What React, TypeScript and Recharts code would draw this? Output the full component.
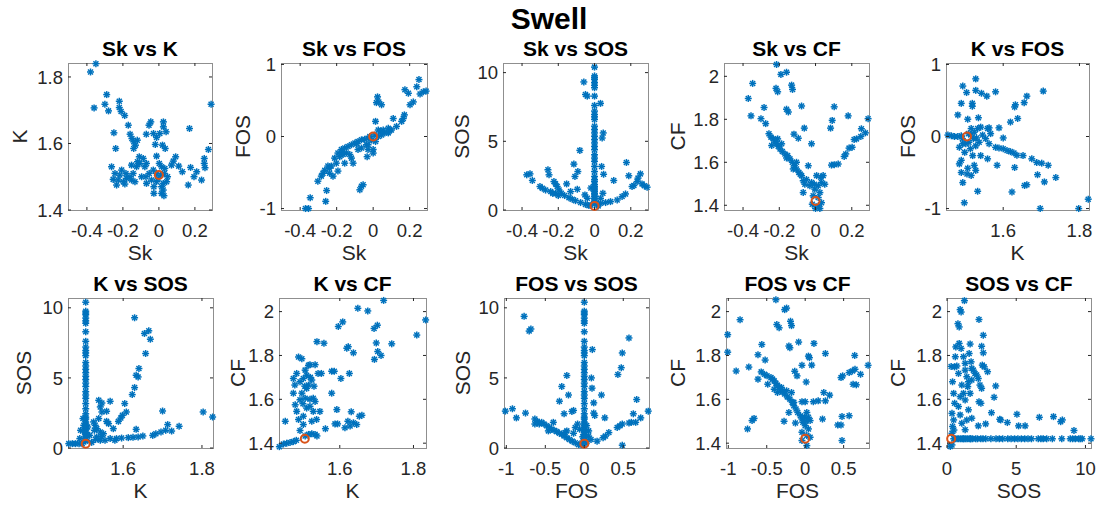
import { ScatterChart, Scatter, XAxis, YAxis } from 'recharts';

type Pt = [number, number];

const BLUE = '#0072BD';
const RED = '#D95319';
const INK = '#262626';
const BOX = '#8f8f8f';
const FONT = 'Arial, "Liberation Sans", Helvetica, sans-serif';

// base case (red circle)
const baseSk = 0;
const baseK = 1.505;
const baseFos = 0;
const baseSos = 0.3;
const baseCf = 1.42;

// SOS sweep with everything else at the base case
const sosSweep = [0.49, 0.6, 0.73, 0.85, 0.98, 1.1, 1.22, 1.35, 1.46, 1.6, 1.71, 1.85, 2.07, 2.2, 2.44, 2.8, 3.17, 3.54, 3.78, 4.02, 4.39, 4.63, 4.88, 5.12, 5.37, 5.61, 5.85, 6.1, 6.59, 6.78, 6.95, 7.2, 7.61, 8.29, 8.9, 9.07, 9.27, 9.51, 9.63, 9.76, 10.4];

const skTicks = [-0.4, -0.2, 0, 0.2];
const kTicksY = [1.4, 1.6, 1.8];
const kTicksX = [1.6, 1.8];
const fosTicksY = [-1, 0, 1];
const fosTicksX = [-1, -0.5, 0, 0.5];
const sosTicks = [0, 5, 10];
const cfTicks = [1.4, 1.6, 1.8, 2];

const skK: Pt[] = [
  [-0.35, 1.84], [-0.38, 1.815], [-0.36, 1.707], [-0.29, 1.747], [-0.3, 1.718], [-0.28, 1.698], [-0.22, 1.727], [-0.22, 1.708],
  [-0.21, 1.696], [-0.19, 1.684], [-0.25, 1.632], [-0.24, 1.585], [-0.17, 1.655], [-0.16, 1.628], [-0.15, 1.615], [-0.14, 1.605],
  [-0.13, 1.595], [-0.14, 1.585], [-0.12, 1.61], [-0.07, 1.628], [-0.055, 1.655], [-0.045, 1.665], [-0.03, 1.63], [-0.02, 1.597],
  [-0.013, 1.618], [0.005, 1.63], [0.025, 1.665], [0.025, 1.65], [0.04, 1.635], [0.02, 1.595], [0.035, 1.585], [-0.013, 1.562],
  [0.17, 1.645], [0.29, 1.718], [0.275, 1.582], [0.252, 1.555], [0.252, 1.54], [0.256, 1.527], [0.21, 1.515], [0.195, 1.5],
  [0.237, 1.49], [0.163, 1.475], [0.176, 1.528], [0.13, 1.515], [0.11, 1.532], [0.093, 1.56], [0.08, 1.547], [0.07, 1.535],
  [-0.031, 1.52], [-0.013, 1.51], [0.015, 1.53], [0.033, 1.525], [0.048, 1.5], [0.024, 1.48], [0.015, 1.47], [0.024, 1.46],
  [0.015, 1.45], [0.028, 1.443], [-0.028, 1.45], [-0.013, 1.485], [-0.041, 1.49], [-0.054, 1.51], [-0.072, 1.5], [-0.078, 1.53],
  [-0.069, 1.48], [-0.096, 1.5], [-0.106, 1.54], [-0.109, 1.56], [-0.087, 1.555], [-0.069, 1.54], [-0.124, 1.53], [-0.143, 1.51],
  [-0.152, 1.49], [-0.133, 1.485], [-0.161, 1.5], [-0.183, 1.51], [-0.198, 1.485], [-0.217, 1.505], [-0.226, 1.49], [-0.235, 1.475],
  [-0.254, 1.492], [-0.263, 1.53], [-0.244, 1.51], [-0.189, 1.478], [-0.18, 1.495], [-0.207, 1.52], [-0.152, 1.535], [-0.119, 1.545],
  [-0.028, 1.47], [0.043, 1.485], [0.002, 1.54], [0.01, 1.505], [-0.005, 1.495], [0.03, 1.51],
];

const skFos: Pt[] = [
  [-0.371, -1.0], [-0.354, -1.0], [-0.345, -0.85], [-0.26, -0.9], [-0.255, -0.75], [-0.303, -0.62], [-0.284, -0.55], [-0.275, -0.51],
  [-0.248, -0.41], [-0.229, -0.41], [-0.239, -0.51], [-0.22, -0.55], [-0.193, -0.48], [-0.202, -0.37], [-0.211, -0.3], [-0.193, -0.23],
  [-0.174, -0.18], [-0.156, -0.16], [-0.138, -0.14], [-0.119, -0.115], [-0.1, -0.09], [-0.083, -0.07], [-0.064, -0.046], [-0.046, -0.037],
  [-0.028, -0.023], [-0.183, -0.28], [-0.165, -0.25], [-0.147, -0.23], [-0.128, -0.25], [-0.119, -0.3], [-0.156, -0.37], [-0.11, -0.37],
  [-0.083, -0.18], [-0.064, -0.16], [-0.037, -0.115], [-0.028, -0.18], [-0.033, -0.28], [0, -0.23], [-0.064, -0.69], [-0.055, -0.67],
  [-0.073, -0.74], [0.024, 0.55], [0.018, 0.47], [0.031, 0.48], [0.046, 0.44], [0.013, 0.21], [0.028, 0.09], [0.042, 0.07],
  [0.055, 0.09], [0.046, 0.02], [0.028, 0], [0.083, 0.115], [0.092, 0.09], [0.11, 0.25], [0.128, 0.14], [0.156, 0.21],
  [0.165, 0.25], [0.171, 0.3], [0.202, 0.44], [0.22, 0.48], [0.174, 0.65], [0.193, 0.6], [0.239, 0.69], [0.251, 0.79],
  [0.257, 0.59], [0.275, 0.62], [0.29, 0.63], [-0.018, 0], [0.009, 0.02], [-0.009, -0.05], [0.013, -0.07], [-0.028, -0.115],
  [0.064, 0.05], [0.083, 0.05], [0.1, 0.09], [-0.24, -0.44], [-0.265, -0.47], [-0.17, -0.22], [-0.09, -0.1], [0.0, -0.18],
];

const skSos: Pt[] = [
  [-0.374, 2.56], [-0.356, 2.63], [-0.343, 2.15], [-0.301, 1.71], [-0.288, 1.59], [-0.257, 2.93], [-0.251, 2.56], [-0.242, 1.34],
  [-0.224, 2.07], [-0.215, 1.9], [-0.206, 1.71], [-0.196, 1.46], [-0.215, 1.22], [-0.154, 1.9], [-0.114, 3.34], [-0.108, 2.44],
  [-0.092, 2.8], [-0.081, 4.34], [-0.183, 1.22], [-0.165, 1.05], [-0.141, 0.9], [-0.123, 0.78], [-0.105, 0.68], [-0.077, 0.54],
  [-0.05, 0.41], [-0.031, 0.32], [-0.132, 1.34], [-0.095, 1.51], [-0.053, 1.1], [-0.04, 0.85], [-0.059, 9.32], [-0.05, 8.41],
  [-0.04, 8.29], [0.033, 7.76], [0.048, 5.61], [0.042, 5.24], [0.039, 3.17], [0.046, 1.22], [0.033, 0.85], [0.033, 0.49],
  [0.061, 0.54], [0.088, 0.61], [0.106, 2.15], [0.125, 0.73], [0.152, 0.98], [0.171, 1.17], [0.176, 3.46], [0.189, 2.49],
  [0.207, 1.71], [0.217, 1.78], [0.235, 2.07], [0.24, 2.32], [0.253, 2.63], [0.262, 1.9], [0.275, 1.76], [0.29, 1.66],
  [0.02, 0.3], [-0.02, 0.35], [0.01, 0.45], [-0.27, 1.45], [-0.23, 1.2], [-0.2, 1.05], [0.05, 2.6], [-0.02, 1.6],
];

const skCf: Pt[] = [
  [-0.215, 2.055], [-0.191, 2.009], [-0.16, 2.019], [-0.132, 1.959], [-0.127, 1.939], [-0.218, 1.944], [-0.209, 1.928], [-0.347, 1.967],
  [-0.371, 1.897], [-0.356, 1.816], [-0.284, 1.855], [-0.301, 1.803], [-0.275, 1.78], [-0.16, 1.847], [-0.15, 1.834], [-0.077, 1.862],
  [-0.062, 1.759], [-0.119, 1.731], [-0.095, 1.712], [-0.022, 1.686], [0.092, 1.795], [0.103, 1.858], [0.083, 1.759], [0.18, 1.816],
  [0.253, 1.756], [0.275, 1.737], [0.29, 1.803], [0.226, 1.709], [0.202, 1.67], [0.185, 1.666], [0.158, 1.627], [0.125, 1.592],
  [0.103, 1.589], [0.088, 1.587], [0.25, 1.72], [0.213, 1.706], [0.167, 1.639],
  [-0.257, 1.733], [-0.246, 1.717], [-0.233, 1.709], [-0.224, 1.694], [-0.215, 1.686], [-0.206, 1.675], [-0.196, 1.662], [-0.183, 1.65],
  [-0.169, 1.639], [-0.154, 1.631], [-0.141, 1.616], [-0.128, 1.6], [-0.117, 1.584], [-0.105, 1.569], [-0.092, 1.553], [-0.077, 1.538],
  [-0.068, 1.514], [-0.059, 1.498], [-0.068, 1.459], [-0.04, 1.584], [-0.242, 1.678], [-0.209, 1.709], [-0.187, 1.686], [-0.105, 1.6],
  [-0.123, 1.569], [-0.013, 1.444], [0.015, 1.436], [0.006, 1.538], [0.029, 1.53], [0.042, 1.538], [0.051, 1.498], [0.033, 1.506],
  [0.015, 1.491], [-0.007, 1.498], [-0.022, 1.506], [-0.031, 1.491], [0.024, 1.385], [0, 1.385], [0.015, 1.397], [-0.018, 1.405],
  [0.033, 1.412], [-0.004, 1.475], [0.024, 1.459], [-0.05, 1.52], [-0.085, 1.545], [-0.16, 1.62],
];

const kFos: Pt[] = [
  [1.455, 0.02], [1.464, 0.01], [1.472, 0], [1.481, 0], [1.49, 0.01], [1.494, 0.7], [1.504, 0.61], [1.49, 0.46],
  [1.481, 0.3], [1.528, 0.8], [1.528, 0.64], [1.543, 0.6], [1.557, 0.56], [1.58, 0.62], [1.519, 0.46], [1.519, 0.42],
  [1.535, 0.26], [1.507, 0.24], [1.705, 0.63], [1.662, 0.56], [1.655, 0.47], [1.632, 0.44], [1.63, 0.41], [1.638, 0.25],
  [1.619, 0.2], [1.589, 0.12], [1.563, 0.12], [1.541, 0.13], [1.58, -0.15], [1.589, -0.16], [1.6, -0.17], [1.61, -0.195],
  [1.619, -0.21], [1.628, -0.23], [1.636, -0.26], [1.652, -0.265], [1.675, -0.31], [1.688, -0.36], [1.701, -0.37], [1.718, -0.4],
  [1.738, -0.57], [1.708, -0.63], [1.69, -0.53], [1.656, -0.68], [1.662, -0.67], [1.623, -0.77], [1.63, -0.43], [1.584, -0.4],
  [1.6, -0.02], [1.697, -1.0], [1.798, -1.0], [1.823, -0.87], [1.498, -0.92], [1.533, -0.76], [1.485, -0.15], [1.494, -0.1],
  [1.499, -0.22], [1.49, -0.33], [1.485, -0.38], [1.49, -0.5], [1.494, -0.64], [1.507, -0.44], [1.505, -0.52], [1.516, -0.54],
  [1.528, -0.47], [1.524, -0.4], [1.52, -0.265], [1.514, -0.17], [1.528, -0.13], [1.537, -0.08], [1.541, -0.265], [1.559, -0.31],
  [1.563, -0.1], [1.554, -0.03], [1.546, 0.02], [1.567, 0.04], [1.524, 0.06], [1.516, 0.11], [1.522, -0.03], [1.51, -0.08],
  [1.502, -0.1], [1.493, -0.03], [1.509, 0.04], [1.533, 0.11], [1.559, 0.11], [1.515, 0.02], [1.53, -0.02],
];

const kSos: Pt[] = [
  [1.462, 0.31], [1.471, 0.31], [1.479, 0.31], [1.488, 0.31], [1.496, 0.31], [1.5, 1.62], [1.498, 2.1], [1.502, 1.14],
  [1.492, 1.26], [1.49, 0.67], [1.525, 1.86], [1.529, 1.62], [1.533, 1.38], [1.542, 1.14], [1.55, 1.02], [1.538, 2.1],
  [1.546, 2.57], [1.542, 2.93], [1.538, 3.4], [1.546, 3.21], [1.558, 2.62], [1.567, 3.33], [1.558, 1.9], [1.563, 1.74],
  [1.575, 1.38], [1.567, 0.67], [1.554, 0.55], [1.542, 0.55], [1.533, 0.79], [1.527, 1.26], [1.588, 1.9], [1.594, 2.14],
  [1.598, 2.33], [1.604, 3.17], [1.608, 2.57], [1.623, 3.81], [1.629, 4.31], [1.633, 5.19], [1.638, 5.07], [1.64, 5.67],
  [1.657, 6.74], [1.654, 8.17], [1.665, 8.36], [1.669, 7.76], [1.629, 9.29], [1.583, 0.67], [1.596, 0.71], [1.613, 0.74],
  [1.625, 0.76], [1.638, 0.79], [1.65, 0.86], [1.683, 1.02], [1.696, 1.14], [1.708, 1.26], [1.723, 1.21], [1.742, 1.55],
  [1.713, 1.67], [1.7, 2.64], [1.633, 1.33], [1.675, 0.9], [1.803, 2.57], [1.827, 2.21], [1.579, 0.55], [1.52, 0.4],
  [1.515, 0.9], [1.51, 1.5], [1.53, 0.6], [1.545, 0.8],
];

const kCf: Pt[] = [
  [1.436, 1.384], [1.447, 1.396], [1.456, 1.4], [1.465, 1.403], [1.474, 1.407], [1.482, 1.413], [1.506, 1.433], [1.515, 1.44],
  [1.524, 1.443], [1.533, 1.44], [1.538, 1.433], [1.452, 1.5], [1.492, 1.458], [1.501, 1.485], [1.561, 1.466], [1.474, 1.628],
  [1.478, 1.665], [1.474, 1.695], [1.483, 1.718], [1.488, 1.793], [1.497, 1.785], [1.479, 1.575], [1.483, 1.545], [1.488, 1.508],
  [1.501, 1.523], [1.492, 1.598], [1.497, 1.628], [1.492, 1.68], [1.501, 1.695], [1.506, 1.733], [1.51, 1.71], [1.515, 1.755],
  [1.519, 1.758], [1.533, 1.758], [1.515, 1.665], [1.524, 1.688], [1.51, 1.65], [1.506, 1.605], [1.51, 1.56], [1.519, 1.568],
  [1.528, 1.545], [1.524, 1.5], [1.537, 1.508], [1.519, 1.6], [1.533, 1.59], [1.546, 1.545], [1.541, 1.718], [1.55, 1.718],
  [1.528, 1.605], [1.538, 1.863], [1.557, 1.856], [1.578, 1.728], [1.585, 1.728], [1.578, 1.628], [1.592, 1.553], [1.587, 1.488],
  [1.594, 1.488], [1.603, 1.695], [1.626, 1.718], [1.596, 1.932], [1.608, 1.953], [1.619, 1.833], [1.623, 1.84], [1.637, 1.812],
  [1.622, 1.5], [1.631, 1.543], [1.628, 1.478], [1.637, 1.493], [1.646, 1.485], [1.653, 1.523], [1.66, 1.527], [1.614, 1.47],
  [1.649, 2.015], [1.676, 2.003], [1.719, 2.051], [1.693, 1.923], [1.702, 1.938], [1.699, 1.857], [1.694, 1.782], [1.703, 1.818],
  [1.712, 1.8], [1.741, 1.853], [1.809, 1.893], [1.833, 1.962], [1.505, 1.66], [1.52, 1.7], [1.5, 1.58], [1.53, 1.66],
];

const fosSos: Pt[] = [
  [-1.013, 2.63], [-0.922, 2.8], [-0.871, 2.15], [-0.772, 9.39], [-0.707, 8.34], [-0.685, 8.49], [-0.754, 2.49], [-0.634, 2.07],
  [-0.603, 1.9], [-0.578, 1.71], [-0.547, 1.83], [-0.517, 1.71], [-0.483, 1.59], [-0.634, 1.71], [-0.448, 1.46], [-0.418, 1.34],
  [-0.388, 1.27], [-0.353, 1.17], [-0.319, 1.05], [-0.289, 0.98], [-0.259, 0.85], [-0.224, 0.73], [-0.19, 0.61], [-0.155, 0.49],
  [-0.116, 0.37], [-0.073, 0.24], [-0.039, 0.24], [-0.397, 1.83], [-0.461, 1.22], [-0.224, 1.22], [-0.138, 1.05], [-0.116, 1.46],
  [-0.06, 1.34], [-0.246, 1.1], [-0.224, 5.17], [-0.289, 4.39], [-0.203, 3.78], [-0.319, 3.34], [-0.259, 2.44], [-0.159, 2.61],
  [-0.138, 2.68], [-0.086, 1.71], [0.103, 7.02], [0.091, 5.0], [0.099, 4.27], [0.121, 3.22], [0.121, 2.49], [0.134, 2.32],
  [0.22, 3.78], [0.263, 2.15], [0.056, 1.22], [0.056, 0.85], [0.086, 0.61], [0.034, 0.49], [0.164, 0.49], [0.241, 0.73],
  [0.272, 0.85], [0.315, 1.1], [0.422, 1.46], [0.457, 1.59], [0.487, 1.71], [0.573, 1.78], [0.603, 1.83], [0.629, 2.44],
  [0.659, 1.83], [0.672, 3.46], [0.724, 2.15], [0.82, 2.63], [0.487, 0.2], [0.431, 5.24], [0.474, 5.73], [0.487, 6.78],
  [0.573, 7.85], [-0.03, 0.35], [0.02, 0.3], [-0.02, 0.8], [0.03, 1.6],
];

const fosCf: Pt[] = [
  [-1.008, 1.895], [-1.008, 1.815], [-0.847, 1.963], [-0.898, 1.729], [-0.733, 1.747], [-0.75, 1.465], [-0.691, 1.503], [-0.665, 1.513],
  [-0.614, 1.803], [-0.564, 1.85], [-0.521, 1.779], [-0.614, 1.692], [-0.381, 2.054], [-0.369, 1.941], [-0.339, 1.926], [-0.267, 2.009],
  [-0.242, 2.016], [-0.191, 1.956], [-0.178, 1.936], [-0.212, 1.843], [-0.199, 1.835], [-0.085, 1.861], [0.042, 1.797], [0.055, 1.79],
  [0.114, 1.855], [0.263, 1.809], [0.085, 1.756], [-0.042, 1.755], [-0.136, 1.728], [-0.106, 1.707], [0.013, 1.679],
  [-0.572, 1.725], [-0.53, 1.714], [-0.496, 1.707], [-0.445, 1.699], [-0.424, 1.692], [-0.403, 1.684], [-0.381, 1.673], [-0.36, 1.664],
  [-0.339, 1.654], [-0.318, 1.646], [-0.297, 1.634], [-0.267, 1.624], [-0.233, 1.611], [-0.199, 1.601], [-0.169, 1.586], [-0.148, 1.571],
  [-0.119, 1.556], [-0.097, 1.54], [-0.064, 1.525], [-0.042, 1.51], [-0.03, 1.495], [-0.487, 1.669], [-0.403, 1.646], [-0.36, 1.631],
  [-0.309, 1.654], [-0.242, 1.639], [-0.148, 1.586], [-0.212, 1.54], [-0.275, 1.5], [-0.127, 1.492], [-0.178, 1.631],
  [-0.042, 1.589], [0, 1.589], [0.106, 1.589], [0.169, 1.593], [0.263, 1.593], [0.242, 1.631], [0.318, 1.619], [0.225, 1.51],
  [0.466, 1.699], [0.487, 1.707], [0.572, 1.722], [0.614, 1.729], [0.648, 1.737], [0.623, 1.669], [0.665, 1.666], [0.644, 1.8],
  [0.72, 1.714], [0.818, 1.755], [0.424, 1.483], [0.466, 1.483], [0.479, 1.522], [0.572, 1.525], [0.479, 1.412],
  [0.021, 1.54], [0.042, 1.518], [0.064, 1.503], [0, 1.48], [0.042, 1.465], [-0.042, 1.45], [0.021, 1.435], [0.064, 1.427],
  [0.021, 1.389], [-0.042, 1.412], [0.01, 1.5], [-0.01, 1.52],
];

const sosCf: Pt[] = [
  [0.36, 1.445], [0.4, 1.476], [0.48, 1.506], [0.36, 1.536], [0.55, 1.582], [0.48, 1.627], [0.4, 1.68], [0.55, 1.748],
  [0.6, 1.794], [0.64, 1.839], [0.88, 1.855], [1.02, 1.832], [0.71, 1.752], [0.83, 1.718], [1.07, 1.665], [1.19, 1.627],
  [1.31, 1.597], [1.55, 1.552], [1.79, 1.514], [0.95, 1.612], [0.83, 1.567], [0.95, 1.529], [1.07, 1.491], [1.31, 1.461],
  [1.43, 1.506], [0.79, 1.945], [0.88, 1.93], [0.95, 2.009], [1.02, 1.998], [1.26, 2.05], [2.31, 1.964], [2.62, 1.892],
  [2.5, 1.842], [2.62, 1.812], [2.55, 1.756], [2.69, 1.748], [2.93, 1.726], [2.26, 1.695], [1.67, 1.852], [1.6, 1.809],
  [1.74, 1.771], [1.79, 1.741], [1.9, 1.733], [2.02, 1.718], [2.14, 1.711], [1.55, 1.68], [1.5, 1.658], [1.67, 1.627],
  [1.79, 1.688], [1.43, 1.703], [1.31, 1.733], [1.19, 1.794], [1.31, 1.764], [2.38, 1.665], [2.5, 1.65], [2.31, 1.589],
  [2.45, 1.582], [2.26, 1.479], [2.79, 1.488], [3.21, 1.539], [3.4, 1.609], [3.52, 1.661], [3.81, 1.509], [3.88, 1.506],
  [4.36, 1.494], [5.05, 1.532], [5.17, 1.479], [5.64, 1.479], [6.67, 1.518], [7.69, 1.521], [8.21, 1.498], [8.33, 1.506],
  [9.17, 1.458], [0.24, 1.385], [0.36, 1.392], [0.5, 1.46], [1.2, 1.42], [1.7, 1.42], [2.6, 1.42], [0.3, 1.75],
];

type PanelCfg = {
  title: string;
  xLabel: string;
  yLabel: string;
  box: [number, number, number, number];
  yGap: number;
  xDomain: [number, number];
  xTicks: number[];
  yDomain: [number, number];
  yTicks: number[];
  points: Pt[];
  base: Pt;
};

const skDom: [number, number] = [-0.505, 0.295];
const fosDomY: [number, number] = [-1.02, 1.02];
const fosDomX: [number, number] = [-1.03, 0.83];
const sosDomY: [number, number] = [0, 10.7];
const sosDomX: [number, number] = [0, 10.4];
const cfDom: [number, number] = [1.378, 2.062];

const panels: PanelCfg[] = [
  { title: 'Sk vs K', xLabel: 'Sk', yLabel: 'K', box: [68, 63, 212, 210], yGap: 49, xDomain: skDom, xTicks: skTicks, yDomain: [1.4, 1.842], yTicks: kTicksY, points: skK, base: [baseSk, baseK] },
  { title: 'Sk vs FOS', xLabel: 'Sk', yLabel: 'FOS', box: [281, 63, 427, 210], yGap: 39, xDomain: skDom, xTicks: skTicks, yDomain: fosDomY, yTicks: fosTicksY, points: skFos, base: [baseSk, baseFos] },
  { title: 'Sk vs SOS', xLabel: 'Sk', yLabel: 'SOS', box: [503, 63, 648, 210], yGap: 42, xDomain: skDom, xTicks: skTicks, yDomain: sosDomY, yTicks: sosTicks, points: [...skSos, ...sosSweep.map((s): Pt => [baseSk, s])], base: [baseSk, baseSos] },
  { title: 'Sk vs CF', xLabel: 'Sk', yLabel: 'CF', box: [724, 63, 869, 210], yGap: 47, xDomain: skDom, xTicks: skTicks, yDomain: cfDom, yTicks: cfTicks, points: skCf, base: [baseSk, baseCf] },
  { title: 'K vs FOS', xLabel: 'K', yLabel: 'FOS', box: [946, 63, 1089, 210], yGap: 39, xDomain: [1.45, 1.825], xTicks: kTicksX, yDomain: fosDomY, yTicks: fosTicksY, points: kFos, base: [baseK, baseFos] },
  { title: 'K vs SOS', xLabel: 'K', yLabel: 'SOS', box: [68, 298, 213, 448], yGap: 45, xDomain: [1.46, 1.828], xTicks: kTicksX, yDomain: sosDomY, yTicks: sosTicks, points: [...kSos, ...sosSweep.map((s): Pt => [baseK, s])], base: [baseK, baseSos] },
  { title: 'K vs CF', xLabel: 'K', yLabel: 'CF', box: [279, 298, 426, 448], yGap: 42, xDomain: [1.435, 1.834], xTicks: kTicksX, yDomain: cfDom, yTicks: cfTicks, points: kCf, base: [baseK, baseCf] },
  { title: 'FOS vs SOS', xLabel: 'FOS', yLabel: 'SOS', box: [504, 298, 649, 448], yGap: 42, xDomain: fosDomX, xTicks: fosTicksX, yDomain: sosDomY, yTicks: sosTicks, points: [...fosSos, ...sosSweep.map((s): Pt => [baseFos, s])], base: [baseFos, baseSos] },
  { title: 'FOS vs CF', xLabel: 'FOS', yLabel: 'CF', box: [726, 298, 869, 448], yGap: 49, xDomain: fosDomX, xTicks: fosTicksX, yDomain: cfDom, yTicks: cfTicks, points: fosCf, base: [baseFos, baseCf] },
  { title: 'SOS vs CF', xLabel: 'SOS', yLabel: 'CF', box: [947, 298, 1091, 448], yGap: 50, xDomain: sosDomX, xTicks: sosTicks, yDomain: cfDom, yTicks: cfTicks, points: [...sosCf, ...sosSweep.map((s): Pt => [s, baseCf])], base: [baseSos, baseCf] },
];

// MATLAB '*' marker
function Star(props: any) {
  const { cx, cy } = props;
  if (cx == null || cy == null) return null;
  const r = 3.5;
  const d = 2.5;
  return (
    <g stroke={BLUE} strokeWidth={1.5}>
      <line x1={cx - r} y1={cy} x2={cx + r} y2={cy} />
      <line x1={cx} y1={cy - r} x2={cx} y2={cy + r} />
      <line x1={cx - d} y1={cy - d} x2={cx + d} y2={cy + d} />
      <line x1={cx - d} y1={cy + d} x2={cx + d} y2={cy - d} />
    </g>
  );
}

function Ring(props: any) {
  const { cx, cy } = props;
  if (cx == null || cy == null) return null;
  return <circle cx={cx} cy={cy} r={4} fill="none" stroke={RED} strokeWidth={2} />;
}

const YW = 60;
const XH = 40;
const MT = 12;
const MR = 18;
const TICK_FS = 18.5;
const LABEL_FS = 21;

function Panel({ cfg }: { cfg: PanelCfg }) {
  const [l, t, r, b] = cfg.box;
  const pw = r - l;
  const ph = b - t;
  const data = cfg.points.map(([x, y]) => ({ x, y }));
  const base = [{ x: cfg.base[0], y: cfg.base[1] }];

  const xTick = (p: any) => (
    <g>
      <line x1={p.x} y1={p.y} x2={p.x} y2={p.y - 3} stroke={INK} />
      <line x1={p.x} y1={p.y - ph} x2={p.x} y2={p.y - ph + 3} stroke={INK} />
      <text x={p.x} y={p.y + 27} textAnchor="middle" fontSize={TICK_FS} fill={INK} fontFamily={FONT}>
        {String(p.payload.value)}
      </text>
    </g>
  );
  const yTick = (p: any) => (
    <g>
      <line x1={p.x} y1={p.y} x2={p.x + 3} y2={p.y} stroke={INK} />
      <line x1={p.x + pw} y1={p.y} x2={p.x + pw - 3} y2={p.y} stroke={INK} />
      <text x={p.x - 5} y={p.y} dy="0.36em" textAnchor="end" fontSize={TICK_FS} fill={INK} fontFamily={FONT}>
        {String(p.payload.value)}
      </text>
    </g>
  );

  return (
    <div style={{ position: 'absolute', left: l - YW, top: t - MT }}>
      <ScatterChart width={YW + pw + MR} height={MT + ph + XH} margin={{ top: MT, right: MR, bottom: 0, left: 0 }}>
        <XAxis type="number" dataKey="x" domain={cfg.xDomain} ticks={cfg.xTicks} interval={0} height={XH}
          tickSize={0} tickMargin={0} axisLine={false} tickLine={false} tick={xTick} />
        <YAxis type="number" dataKey="y" domain={cfg.yDomain} ticks={cfg.yTicks} interval={0} width={YW}
          tickSize={0} tickMargin={0} axisLine={false} tickLine={false} tick={yTick} />
        <Scatter data={data} shape={Star} isAnimationActive={false} />
        <Scatter data={base} shape={Ring} isAnimationActive={false} />
      </ScatterChart>
    </div>
  );
}

export default function App() {
  return (
    <div style={{ position: 'absolute', left: 0, top: 0, width: 1099, height: 506, background: '#fff', overflow: 'hidden' }}>
      <svg width={1099} height={506} style={{ position: 'absolute', left: 0, top: 0 }}>
        {panels.map((p) => {
          const [l, t, r, b] = p.box;
          return <rect key={p.title} x={l + 0.5} y={t + 0.5} width={r - l} height={b - t} fill="none" stroke={BOX} strokeWidth={1} />;
        })}
      </svg>
      {panels.map((p) => (
        <Panel key={p.title} cfg={p} />
      ))}
      <svg width={1099} height={506} style={{ position: 'absolute', left: 0, top: 0, pointerEvents: 'none' }} fontFamily={FONT}>
        <text x={549} y={29} textAnchor="middle" fontSize={30} fontWeight="bold" fill="#000">Swell</text>
        {panels.map((p) => {
          const [l, t, r, b] = p.box;
          const cx = (l + r) / 2;
          const cy = (t + b) / 2;
          const lx = l - p.yGap;
          return (
            <g key={p.title}>
              <text x={cx} y={t - 7} textAnchor="middle" fontSize={LABEL_FS} fontWeight="bold" fill="#000">{p.title}</text>
              <text x={cx} y={b + 50} textAnchor="middle" fontSize={LABEL_FS} fill={INK}>{p.xLabel}</text>
              <text x={lx} y={cy} dy="0.36em" textAnchor="middle" fontSize={LABEL_FS} fill={INK} transform={`rotate(-90 ${lx} ${cy})`}>{p.yLabel}</text>
            </g>
          );
        })}
      </svg>
    </div>
  );
}
